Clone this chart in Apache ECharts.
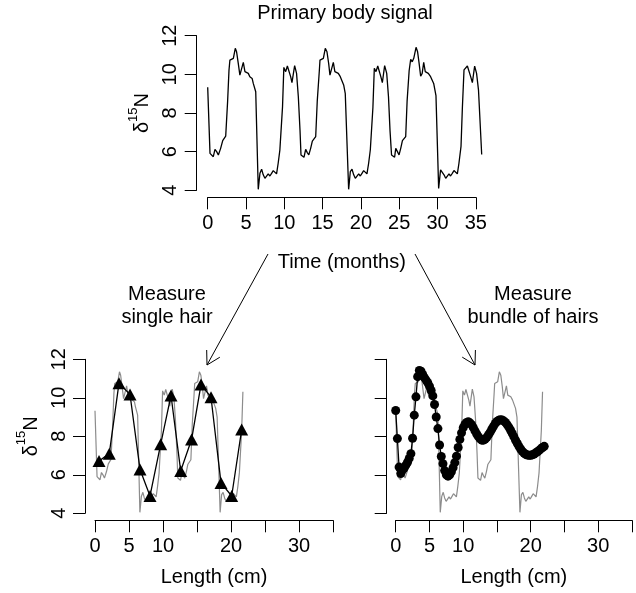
<!DOCTYPE html>
<html>
<head>
<meta charset="utf-8">
<script src="https://cdn.jsdelivr.net/npm/echarts@6/dist/echarts.min.js"></script>
<style>
html, body { margin: 0; padding: 0; background: #fff; }
#chart { width: 636px; height: 593px; }
</style>
</head>
<body>
<div id="chart"></div>
<script>
// primary body signal, [month, d15N]
var bodySignal = [
	[0,9.33],[0.3,5.91],[0.5,5.83],[0.73,5.74],[0.95,6.12],[1.17,6.0],[1.39,5.83],[1.69,6.17],[1.96,6.57],[2.18,6.6],
	[2.35,6.8],[2.6,8.6],[2.78,10.22],[2.9,10.74],[3.1,10.65],[3.35,10.83],[3.6,11.35],[3.77,11.17],[3.99,10.57],[4.2,9.96],
	[4.4,10.05],[4.65,10.62],[4.86,10.14],[5.08,10.19],[5.3,10.05],[5.5,9.88],[5.8,9.79],[5.95,9.53],[6.27,9.1],[6.6,4.05],
	[6.82,4.88],[7.04,5.09],[7.25,4.8],[7.47,4.62],[7.69,4.71],[7.9,4.85],[8.12,4.74],[8.34,4.88],[8.56,5.02],[8.77,4.92],
	[8.99,4.85],[9.2,5.4],[9.42,6.08],[9.55,6.17],[9.77,8.33],[9.94,10.36],[10.18,10.14],[10.4,10.43],[10.6,10.36],[10.83,9.88],
	[11.0,9.57],[11.35,10.45],[11.6,10.05],[11.83,8.85],[12.05,7.12],[12.18,5.83],[12.4,5.74],[12.57,5.71],[12.79,6.12],[13.0,5.95],
	[13.2,5.83],[13.44,6.17],[13.66,6.55],[13.88,6.6],[14.1,6.78],[14.3,8.6],[14.57,10.17],[14.66,10.74],[14.88,10.65],[15.1,10.83],
	[15.35,11.35],[15.57,11.17],[15.79,10.57],[15.96,9.96],[16.18,10.05],[16.4,10.62],[16.6,10.14],[16.83,10.19],[17.05,10.05],[17.31,9.88],
	[17.53,9.79],[17.75,9.45],[17.96,9.0],[18.4,4.05],[18.62,4.97],[18.84,5.09],[19.06,4.8],[19.27,4.62],[19.49,4.71],[19.71,4.85],
	[19.92,4.74],[20.14,4.88],[20.36,5.02],[20.58,4.92],[20.79,4.85],[21.01,5.4],[21.23,6.1],[21.36,6.2],[21.57,8.3],[21.75,10.31],
	[21.97,10.14],[22.2,10.43],[22.4,10.36],[22.6,9.88],[22.8,9.57],[23.1,10.45],[23.37,10.05],[23.6,8.85],[23.8,7.1],[24.0,5.83],
	[24.2,5.74],[24.4,5.71],[24.55,6.17],[24.77,6.0],[24.98,5.83],[25.2,6.17],[25.42,6.57],[25.64,6.6],[25.85,6.78],[26.03,8.6],
	[26.3,10.2],[26.5,10.78],[26.7,10.65],[26.9,10.83],[27.2,11.4],[27.4,11.17],[27.6,10.57],[27.8,9.9],[28.0,10.05],[28.2,10.62],
	[28.4,10.14],[28.6,10.19],[28.8,10.05],[29.1,9.88],[29.3,9.79],[29.5,9.53],[29.8,8.9],[30.15,4.1],[30.4,5.06],[30.6,5.09],
	[30.85,4.8],[31.07,4.62],[31.29,4.71],[31.5,4.85],[31.7,4.74],[31.93,4.88],[32.15,5.02],[32.37,4.92],[32.59,4.85],[32.8,5.4],
	[33.07,6.27],[33.25,8.3],[33.46,10.23],[33.68,10.14],[33.9,10.43],[34.1,10.36],[34.33,9.88],[34.55,9.57],[34.85,10.43],[35.1,10.05],
	[35.35,9.2],[35.77,5.85]
];
// length of hair shown in the lower panels (1 month = 1 cm)
var hairLengthCm = 21.76;

// single hair samples, [cm, d15N]
var singleHair = [
	[0.59,6.72],[2.1,7.1],[3.53,10.76],[5.15,10.17],[6.62,6.28],[8.09,4.9],[9.66,7.59],[11.18,10.12],
	[12.6,6.2],[14.2,7.83],[15.59,10.69],[17.06,10.03],[18.53,5.58],[20.1,4.9],[21.57,8.35]
];

// bundle of hairs, [cm, d15N]
var hairBundle = [
	[0,9.34],[0.25,7.88],[0.5,6.4],[0.75,6.07],[1.0,6.25],[1.25,6.35],[1.5,6.5],[1.75,6.65],[2.0,6.85],[2.25,7.1],
	[2.5,7.9],[2.75,9.1],[3.0,10.05],[3.25,11.1],[3.5,11.42],[3.75,11.38],[4.0,11.22],[4.25,11.05],[4.5,10.92],[4.75,10.78],
	[5.0,10.6],[5.25,10.38],[5.5,10.1],[5.75,9.65],[6.0,9.0],[6.25,8.4],[6.5,7.55],[6.75,6.95],[7.0,6.58],[7.25,6.22],
	[7.5,6.0],[7.75,5.93],[8.0,6.0],[8.25,6.16],[8.5,6.37],[8.75,6.63],[9.0,6.97],[9.25,7.42],[9.5,7.84],[9.75,8.18],
	[10.0,8.45],[10.25,8.62],[10.5,8.72],[10.75,8.75],[11.0,8.7],[11.25,8.6],[11.5,8.45],[11.75,8.28],[12.0,8.12],[12.25,7.98],
	[12.5,7.87],[12.75,7.8],[13.0,7.8],[13.25,7.85],[13.5,7.95],[13.75,8.08],[14.0,8.22],[14.25,8.38],[14.5,8.53],[14.75,8.67],
	[15.0,8.77],[15.25,8.83],[15.5,8.86],[15.75,8.85],[16.0,8.8],[16.25,8.72],[16.5,8.61],[16.75,8.48],[17.0,8.33],[17.25,8.16],
	[17.5,7.98],[17.75,7.8],[18.0,7.64],[18.25,7.48],[18.5,7.34],[18.75,7.22],[19.0,7.13],[19.25,7.07],[19.5,7.03],[19.75,7.01],
	[20.0,7.01],[20.25,7.04],[20.5,7.08],[20.75,7.14],[21.0,7.2],[21.25,7.27],[21.5,7.35],[21.75,7.42],[22.0,7.48]
];

var xTicks = [0, 35, 5];
var yTicks = [4, 12, 2];
var shownLengthLabels = [0, 5, 10, 20, 30];
// the top signal runs a little past the last tick
var signalRangeMax = 36;

var FONT = 'Liberation Sans, Arial, Helvetica, sans-serif';
var black = '#000';
var grey = '#8c8c8c';

var hairSignal = bodySignal.filter(function(p){ return p[0] <= hairLengthCm; });

function makeX(gridIndex, offset, name, nameGap, formatter){
	return {
		type: 'value', gridIndex: gridIndex,
		min: xTicks[0], max: xTicks[1], interval: xTicks[2],
		offset: offset,
		axisLine: { show: true, onZero: false, lineStyle: { color: black, width: 1 } },
		axisTick: { show: true, length: 12, lineStyle: { color: black, width: 1 } },
		axisLabel: { show: true, margin: 16, color: black, fontSize: 20, fontFamily: FONT, formatter: formatter, showMinLabel: true, showMaxLabel: true, hideOverlap: false },
		splitLine: { show: false },
		name: name, nameLocation: 'middle', nameGap: nameGap,
		nameTextStyle: { color: black, fontSize: 20, fontFamily: FONT }
	};
}

function makeY(gridIndex, offset, showLabels, name){
	return {
		type: 'value', gridIndex: gridIndex,
		min: yTicks[0], max: yTicks[1], interval: yTicks[2],
		offset: offset,
		axisLine: { show: true, onZero: false, lineStyle: { color: black, width: 1 } },
		axisTick: { show: true, length: 12, lineStyle: { color: black, width: 1 } },
		axisLabel: { show: showLabels, rotate: 90, margin: 16, color: black, fontSize: 20, fontFamily: FONT },
		splitLine: { show: false },
		name: name, nameLocation: 'middle', nameRotate: 90, nameGap: 44,
		nameTextStyle: {
			color: black, fontSize: 20, fontFamily: FONT,
			rich: {
				d: { fontSize: 20, fontFamily: FONT, color: black, lineHeight: 26, verticalAlign: 'bottom' },
				s: { fontSize: 13, fontFamily: FONT, color: black, lineHeight: 26, verticalAlign: 'top' }
			}
		}
	};
}

var lengthFormatter = function(v){
	return shownLengthLabels.indexOf(v) >= 0 ? String(v) : '';
};

// arrow drawn as a shaft and an open head
function arrow(x1, y1, x2, y2){
	var dx = x1 - x2, dy = y1 - y2;
	var len = Math.sqrt(dx * dx + dy * dy);
	dx /= len; dy /= len;
	var h = 15, a = Math.PI / 6;
	var c = Math.cos(a), s = Math.sin(a);
	var p1 = [x2 + h * (dx * c - dy * s), y2 + h * (dx * s + dy * c)];
	var p2 = [x2 + h * (dx * c + dy * s), y2 + h * (-dx * s + dy * c)];
	return [
		{ type: 'line', shape: { x1: x1, y1: y1, x2: x2, y2: y2 }, style: { stroke: black, lineWidth: 1 } },
		{ type: 'polyline', shape: { points: [p1, [x2, y2], p2] }, style: { stroke: black, lineWidth: 1, fill: null } }
	];
}

function label(text, x, y){
	return {
		type: 'text', x: x, y: y,
		style: { text: text, fill: black, font: '20px ' + FONT, textAlign: 'center', textVerticalAlign: 'middle', lineHeight: 23 }
	};
}

var chart = echarts.init(document.getElementById('chart'));

var graphics = [label('Primary body signal', 345, 13),
	label('Measure\nsingle hair', 167, 306),
	label('Measure\nbundle of hairs', 533, 306)]
	.concat(arrow(268, 254, 207, 365))
	.concat(arrow(415, 254, 475, 365));

var topLeft = 207.7, topWidth = 268.1;

chart.setOption({
	animation: false,
	backgroundColor: '#fff',
	textStyle: { fontFamily: FONT },
	grid: [
		{ left: topLeft, top: 35.7, width: topWidth, height: 154.6 },
		{ left: 95, top: 359.3, width: 238, height: 154 },
		{ left: 395.7, top: 359.3, width: 236.3, height: 154 },
		// same scale as the top grid, only wider, for the signal line
		{ left: topLeft, top: 35.7, width: topWidth * signalRangeMax / xTicks[1], height: 154.6 }
	],
	xAxis: [
		makeX(0, 7, 'Time (months)', 55, null),
		makeX(1, 7, 'Length (cm)', 47, lengthFormatter),
		makeX(2, 7, 'Length (cm)', 47, lengthFormatter),
		{ type: 'value', gridIndex: 3, min: 0, max: signalRangeMax, show: false }
	],
	yAxis: [
		makeY(0, 11, true, '{d|δ}{s|15}{d|N}'),
		makeY(1, 10, true, '{d|δ}{s|15}{d|N}'),
		makeY(2, 9, false, ''),
		{ type: 'value', gridIndex: 3, min: yTicks[0], max: yTicks[1], show: false }
	],
	graphic: graphics,
	series: [
		{
			type: 'line', xAxisIndex: 3, yAxisIndex: 3, data: bodySignal,
			symbol: 'none', clip: false, silent: true,
			lineStyle: { color: black, width: 1.3 }
		},
		{
			type: 'line', xAxisIndex: 1, yAxisIndex: 1, data: hairSignal,
			symbol: 'none', clip: false, silent: true,
			lineStyle: { color: grey, width: 1.2 }
		},
		{
			type: 'line', xAxisIndex: 1, yAxisIndex: 1, data: singleHair,
			symbol: 'triangle', symbolSize: [13, 12], showAllSymbol: true, clip: false, silent: true,
			itemStyle: { color: black },
			lineStyle: { color: black, width: 1.3 }
		},
		{
			type: 'line', xAxisIndex: 2, yAxisIndex: 2, data: hairSignal,
			symbol: 'none', clip: false, silent: true,
			lineStyle: { color: grey, width: 1.2 }
		},
		{
			type: 'line', xAxisIndex: 2, yAxisIndex: 2, data: hairBundle,
			symbol: 'circle', symbolSize: 9, showAllSymbol: true, clip: false, silent: true,
			itemStyle: { color: black },
			lineStyle: { color: black, width: 1.3 }
		}
	]
});
</script>
</body>
</html>
